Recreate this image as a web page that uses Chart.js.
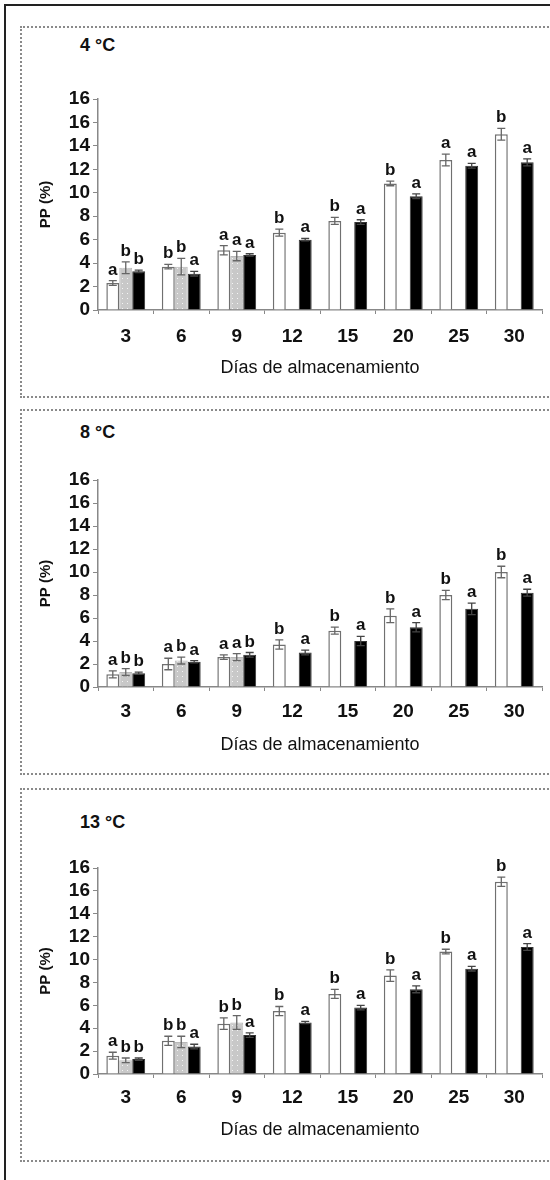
<!DOCTYPE html>
<html><head><meta charset="utf-8">
<script src="https://cdn.jsdelivr.net/npm/chart.js@4"></script>
<style>
html,body{margin:0;padding:0;background:#fff;width:550px;height:1180px;overflow:hidden;}
#wrap{position:absolute;left:0;top:0;width:550px;height:1180px;overflow:hidden;background:#fff;}
.line{position:absolute;background:#222;}
.panel{position:absolute;left:20px;width:540px;border-left:2px dotted #8a8a8a;border-top:2px dotted #8a8a8a;border-bottom:2px dotted #8a8a8a;box-sizing:border-box;}
.ttl{position:absolute;left:80px;font:bold 18px "Liberation Sans",sans-serif;line-height:20px;color:#111;white-space:nowrap;}
canvas{position:absolute;left:0;}
</style></head><body>
<div id="wrap">
  <div class="line" style="left:4px;top:4px;width:2px;height:1176px;"></div>
  <div class="line" style="left:4px;top:4px;width:546px;height:2px;"></div>
</div>
<script>
// ---------- data ----------
const dias = ['3','6','9','12','15','20','25','30'];
const yTickLabels = ['0','2','4','6','8','10','12','14','16','16'];
const panelTitles = ['4 °C','8 °C','13 °C'];
const xTitle = 'Días de almacenamiento';
const yTitle = 'PP (%)';

// 4 °C
const t4White = [2.3, 3.7, 5.1, 6.6, 7.6, 10.8, 12.8, 15.0];
const t4Grey  = [3.6, 3.7, 4.6, null, null, null, null, null];
const t4Black = [3.3, 3.1, 4.7, 6.0, 7.5, 9.7, 12.3, 12.6];
const t4WhiteErr = [0.2, 0.2, 0.4, 0.3, 0.3, 0.2, 0.5, 0.5];
const t4GreyErr  = [0.5, 0.7, 0.4, null, null, null, null, null];
const t4BlackErr = [0.1, 0.2, 0.1, 0.1, 0.2, 0.2, 0.2, 0.3];
const t4WhiteLet = ['a','b','a','b','b','b','a','b'];
const t4GreyLet  = ['b','b','a','','','','',''];
const t4BlackLet = ['b','a','a','a','a','a','a','a'];

// 8 °C
const t8White = [1.1, 2.0, 2.6, 3.7, 4.9, 6.2, 8.0, 10.0];
const t8Grey  = [1.3, 2.3, 2.6, null, null, null, null, null];
const t8Black = [1.2, 2.2, 2.8, 3.0, 4.0, 5.2, 6.8, 8.2];
const t8WhiteErr = [0.3, 0.5, 0.2, 0.4, 0.3, 0.6, 0.4, 0.5];
const t8GreyErr  = [0.3, 0.3, 0.3, null, null, null, null, null];
const t8BlackErr = [0.1, 0.1, 0.2, 0.2, 0.4, 0.4, 0.5, 0.3];
const t8WhiteLet = ['a','a','a','b','b','b','b','b'];
const t8GreyLet  = ['b','b','a','','','','',''];
const t8BlackLet = ['b','a','b','a','a','a','a','a'];

// 13 °C
const t13White = [1.6, 2.9, 4.4, 5.5, 7.0, 8.6, 10.7, 16.8];
const t13Grey  = [1.2, 2.8, 4.5, null, null, null, null, null];
const t13Black = [1.3, 2.4, 3.4, 4.5, 5.8, 7.4, 9.2, 11.1];
const t13WhiteErr = [0.3, 0.4, 0.5, 0.4, 0.4, 0.5, 0.2, 0.4];
const t13GreyErr  = [0.2, 0.5, 0.6, null, null, null, null, null];
const t13BlackErr = [0.1, 0.2, 0.2, 0.1, 0.2, 0.3, 0.2, 0.3];
const t13WhiteLet = ['a','b','b','b','b','b','b','b'];
const t13GreyLet  = ['b','b','b','','','','',''];
const t13BlackLet = ['b','a','a','a','a','a','a','a'];

// ---------- layout (positions only) ----------
const layouts = [
  {boxTop:26,  boxBottom:398,  titleY:45,  topTick:99,  zero:310,  xLab:27, xTtl:58},
  {boxTop:409, boxBottom:775,  titleY:432, topTick:480, zero:687,  xLab:25, xTtl:58},
  {boxTop:788, boxBottom:1162, titleY:822, topTick:868, zero:1074, xLab:24, xTtl:56}
];
const panelData = [
  {w:t4White, g:t4Grey, b:t4Black, we:t4WhiteErr, ge:t4GreyErr, be:t4BlackErr, wl:t4WhiteLet, gl:t4GreyLet, bl:t4BlackLet},
  {w:t8White, g:t8Grey, b:t8Black, we:t8WhiteErr, ge:t8GreyErr, be:t8BlackErr, wl:t8WhiteLet, gl:t8GreyLet, bl:t8BlackLet},
  {w:t13White, g:t13Grey, b:t13Black, we:t13WhiteErr, ge:t13GreyErr, be:t13BlackErr, wl:t13WhiteLet, gl:t13GreyLet, bl:t13BlackLet}
];

function greyPattern(){
  const c = document.createElement('canvas'); c.width = 5; c.height = 5;
  const g = c.getContext('2d');
  g.fillStyle = '#c8c8c8'; g.fillRect(0,0,5,5);
  g.fillStyle = '#f4f4f4'; g.fillRect(2,2,1,1);
  return g.createPattern(c,'repeat');
}

const errLetters = {
  id:'errLetters',
  afterDatasetsDraw(chart){
    const ctx = chart.ctx, ys = chart.scales.y;
    chart.data.datasets.forEach((ds, i) => {
      const meta = chart.getDatasetMeta(i);
      meta.data.forEach((bar, j) => {
        const v = ds.data[j];
        if (v === null || v === undefined) return;
        const e = ds.errors[j] || 0;
        const x = bar.x;
        const yTop = ys.getPixelForValue(v + e), yBot = ys.getPixelForValue(v - e);
        ctx.save();
        ctx.strokeStyle = i === 2 ? '#444' : '#666';
        ctx.lineWidth = 1.3;
        ctx.beginPath();
        ctx.moveTo(x, yTop); ctx.lineTo(x, yBot);
        ctx.moveTo(x - 4, yTop); ctx.lineTo(x + 4, yTop);
        ctx.moveTo(x - 4, yBot); ctx.lineTo(x + 4, yBot);
        ctx.stroke();
        const L = ds.letters[j];
        if (L) {
          ctx.fillStyle = '#111';
          ctx.font = 'bold 17px "Liberation Sans", sans-serif';
          ctx.textAlign = 'center';
          ctx.textBaseline = 'alphabetic';
          ctx.fillText(L, x, yTop - 6);
        }
        ctx.restore();
      });
    });
  }
};

const wrap = document.getElementById('wrap');
const pat = greyPattern();
const W = 550;
layouts.forEach((L, k) => {
  const H = L.boxBottom - L.boxTop;
  const p = document.createElement('div');
  p.className = 'panel';
  p.style.top = L.boxTop + 'px';
  p.style.height = H + 'px';
  wrap.appendChild(p);

  const t = document.createElement('div');
  t.className = 'ttl';
  t.textContent = panelTitles[k];
  t.style.top = (L.titleY - 10) + 'px';
  wrap.appendChild(t);

  const cv = document.createElement('canvas');
  cv.width = W; cv.height = H;
  cv.style.top = L.boxTop + 'px';
  cv.style.width = W + 'px'; cv.style.height = H + 'px';
  wrap.appendChild(cv);

  const d = panelData[k];
  const tickFont = 19, ttlFont = 18;
  const xAxisH = L.xTtl + ttlFont * 1.2 / 2;
  const zeroRel = L.zero - L.boxTop;
  const padTop = L.topTick - L.boxTop;
  const padBottom = H - zeroRel - xAxisH;
  const xTickPad = L.xLab - 4 - tickFont * 1.2 / 2;

  new Chart(cv, {
    type: 'bar',
    data: {
      labels: dias,
      datasets: [
        {data: d.w, errors: d.we, letters: d.wl, backgroundColor:'#ffffff', borderColor:'#707070', borderWidth:1.5, categoryPercentage:0.7, barPercentage:1.0},
        {data: d.g, errors: d.ge, letters: d.gl, backgroundColor: pat, borderColor:'#b8b8b8', borderWidth:1, categoryPercentage:0.7, barPercentage:1.0},
        {data: d.b, errors: d.be, letters: d.bl, backgroundColor:'#000000', borderColor:'#333333', borderWidth:1, categoryPercentage:0.7, barPercentage:1.0}
      ]
    },
    options: {
      responsive: false,
      devicePixelRatio: 1,
      animation: false,
      layout: {padding: {top: padTop, right: 8, left: 0, bottom: padBottom}},
      plugins: {legend: {display:false}, tooltip: {enabled:false}, title: {display:false}},
      scales: {
        x: {
          grid: {offset:true, drawOnChartArea:false, drawTicks:true, tickLength:4, color:'#888', lineWidth:1},
          border: {display:true, color:'#888', width:1.5, dash:[2,1.5]},
          ticks: {color:'#111', font:{family:'"Liberation Sans", sans-serif', size:tickFont, weight:'bold'}, padding:xTickPad, maxRotation:0, autoSkip:false},
          title: {display:true, text:xTitle, color:'#111', font:{family:'"Liberation Sans", sans-serif', size:ttlFont}, padding:{top:0, bottom:0}},
          afterFit(s){ s.height = xAxisH; }
        },
        y: {
          min:0, max:18,
          grid: {drawOnChartArea:false, drawTicks:true, tickLength:5, color:'#888', lineWidth:1},
          border: {display:true, color:'#888', width:1.5, dash:[2,1.5]},
          ticks: {stepSize:2, autoSkip:false, color:'#111', padding:3, font:{family:'"Liberation Sans", sans-serif', size:tickFont, weight:'bold', lineHeight:1.0},
                  callback: (v, i) => yTickLabels[i]},
          title: {display:true, text:yTitle, color:'#111', font:{family:'"Liberation Sans", sans-serif', size:15, weight:'bold'}, padding:{top:37, bottom:0}},
          afterFit(s){ s.width = 98; }
        }
      }
    },
    plugins: [errLetters]
  });
});
</script>
</body></html>
